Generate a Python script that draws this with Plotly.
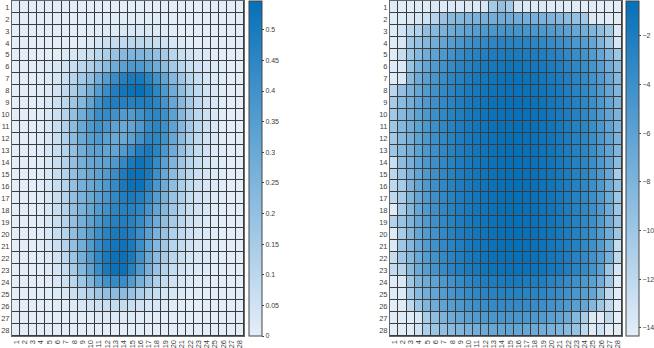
import plotly.graph_objects as go

rows = list(range(1, 29))
cols = list(range(1, 29))
tick_labels = [str(i) for i in range(1, 29)]

mean_img = [
    [0,0,0,0,0,0,0,0,0,0,0,0,0,0,0,0,0,0,0,0,0,0,0,0,0,0,0,0],
    [0,0,0,0,0,0,0,0,0,0,0,0.01,0.01,0.01,0.01,0.01,0.01,0.01,0,0,0,0,0,0,0,0,0,0],
    [0,0,0,0,0,0,0,0,0,0.01,0.01,0.02,0.02,0.03,0.03,0.03,0.03,0.02,0.02,0.01,0,0,0,0,0,0,0,0],
    [0,0,0,0,0,0,0,0,0.01,0.02,0.04,0.06,0.08,0.09,0.1,0.1,0.09,0.07,0.05,0.03,0.02,0.01,0,0,0,0,0,0],
    [0,0,0,0,0,0,0.02,0.03,0.05,0.07,0.1,0.14,0.19,0.23,0.25,0.25,0.23,0.2,0.15,0.11,0.07,0.05,0.03,0.02,0,0,0,0],
    [0,0,0,0.01,0.02,0.03,0.05,0.07,0.1,0.13,0.17,0.22,0.29,0.34,0.37,0.37,0.34,0.29,0.22,0.16,0.11,0.07,0.05,0.03,0.02,0.01,0,0],
    [0,0,0,0.01,0.02,0.04,0.07,0.11,0.16,0.21,0.28,0.35,0.42,0.47,0.5,0.5,0.46,0.4,0.32,0.24,0.17,0.11,0.07,0.04,0.02,0.01,0,0],
    [0,0,0,0.01,0.02,0.05,0.09,0.14,0.2,0.27,0.35,0.42,0.48,0.52,0.54,0.547,0.51,0.45,0.37,0.29,0.21,0.14,0.09,0.05,0.03,0.01,0,0],
    [0,0,0,0.01,0.03,0.06,0.1,0.17,0.24,0.32,0.4,0.46,0.48,0.47,0.47,0.48,0.48,0.45,0.39,0.31,0.23,0.15,0.09,0.05,0.03,0.01,0,0],
    [0,0,0,0.01,0.03,0.06,0.12,0.2,0.28,0.35,0.42,0.43,0.4,0.36,0.36,0.4,0.44,0.45,0.41,0.33,0.24,0.16,0.1,0.06,0.03,0.01,0,0],
    [0,0,0,0.01,0.03,0.07,0.13,0.22,0.3,0.37,0.4,0.38,0.33,0.3,0.32,0.37,0.43,0.45,0.41,0.33,0.24,0.16,0.1,0.06,0.03,0.01,0,0],
    [0,0,0,0.01,0.03,0.07,0.13,0.22,0.3,0.35,0.37,0.34,0.3,0.3,0.34,0.4,0.45,0.45,0.4,0.31,0.22,0.14,0.09,0.05,0.03,0.01,0,0],
    [0,0,0,0.01,0.03,0.07,0.12,0.2,0.28,0.33,0.34,0.32,0.32,0.36,0.42,0.48,0.5,0.46,0.38,0.29,0.2,0.13,0.08,0.05,0.02,0.01,0,0],
    [0,0,0,0.01,0.03,0.07,0.12,0.2,0.27,0.31,0.32,0.33,0.37,0.44,0.5,0.53,0.5,0.43,0.34,0.25,0.17,0.11,0.07,0.04,0.02,0.01,0,0],
    [0,0,0,0.01,0.03,0.07,0.12,0.2,0.26,0.3,0.33,0.36,0.42,0.49,0.54,0.54,0.5,0.41,0.31,0.22,0.15,0.1,0.06,0.04,0.02,0.01,0,0],
    [0,0,0,0.01,0.03,0.07,0.12,0.2,0.27,0.3,0.33,0.37,0.43,0.5,0.54,0.54,0.47,0.38,0.29,0.21,0.14,0.09,0.06,0.03,0.02,0.01,0,0],
    [0,0,0,0.01,0.03,0.07,0.12,0.2,0.26,0.3,0.34,0.38,0.44,0.48,0.5,0.48,0.43,0.35,0.27,0.19,0.13,0.08,0.05,0.03,0.02,0.01,0,0],
    [0,0,0,0.01,0.03,0.07,0.12,0.2,0.26,0.31,0.36,0.4,0.45,0.47,0.47,0.45,0.39,0.32,0.24,0.17,0.11,0.07,0.05,0.03,0.01,0,0,0],
    [0,0,0,0.01,0.03,0.07,0.12,0.2,0.27,0.33,0.38,0.43,0.47,0.48,0.47,0.43,0.36,0.29,0.21,0.15,0.1,0.06,0.04,0.02,0.01,0,0,0],
    [0,0,0,0.01,0.03,0.07,0.12,0.21,0.28,0.35,0.41,0.46,0.5,0.5,0.48,0.42,0.34,0.26,0.19,0.13,0.09,0.06,0.04,0.02,0.01,0,0,0],
    [0,0,0,0.01,0.03,0.06,0.12,0.2,0.28,0.36,0.43,0.48,0.52,0.53,0.5,0.42,0.32,0.24,0.17,0.11,0.08,0.05,0.03,0.02,0.01,0,0,0],
    [0,0,0,0.01,0.02,0.05,0.1,0.18,0.27,0.36,0.44,0.5,0.54,0.54,0.5,0.4,0.3,0.22,0.15,0.1,0.07,0.04,0.03,0.02,0.01,0,0,0],
    [0,0,0,0,0.02,0.04,0.08,0.15,0.24,0.33,0.42,0.5,0.54,0.54,0.47,0.37,0.27,0.19,0.12,0.08,0.05,0.03,0.02,0.01,0,0,0,0],
    [0,0,0,0,0.01,0.03,0.06,0.1,0.17,0.25,0.33,0.4,0.43,0.42,0.36,0.27,0.2,0.13,0.08,0.05,0.03,0.02,0.01,0.01,0,0,0,0],
    [0,0,0,0,0.01,0.02,0.03,0.06,0.09,0.13,0.17,0.2,0.22,0.22,0.19,0.14,0.1,0.07,0.04,0.03,0.02,0.01,0.01,0,0,0,0,0],
    [0,0,0,0,0,0.01,0.01,0.02,0.03,0.05,0.06,0.07,0.08,0.08,0.07,0.05,0.04,0.03,0.02,0.01,0.01,0,0,0,0,0,0,0],
    [0,0,0,0,0,0,0,0.01,0.01,0.01,0.02,0.02,0.02,0.02,0.02,0.01,0.01,0.01,0,0,0,0,0,0,0,0,0,0],
    [0,0,0,0,0,0,0,0,0,0,0,0,0,0,0,0,0,0,0,0,0,0,0,0,0,0,0,0],
]

log_img = [
    [-14.0,-14.1,-14.2,-14.0,-13.9,-13.8,-13.9,-13.8,-13.9,-13.7,-13.8,-13.5,-10.5,-9.3,-10.3,-13.6,-13.8,-13.9,-13.8,-14.0,-13.9,-14.1,-14.0,-14.2,-14.1,-14.3,-14.2,-14.33],
    [-14.1,-14.0,-13.8,-13.5,-13.0,-11.5,-9.5,-8.6,-8.3,-8.0,-7.8,-7.5,-7.3,-7.0,-7.0,-7.2,-7.4,-7.6,-7.8,-8.0,-8.4,-8.8,-9.3,-10.2,-13.8,-14.0,-14.1,-14.2],
    [-14.0,-13.2,-11.8,-11.2,-9.3,-8.5,-7.8,-7.0,-6.5,-6.0,-5.5,-5.1,-4.8,-4.6,-4.5,-4.5,-4.6,-4.8,-5.0,-5.3,-5.6,-6.0,-6.6,-7.3,-8.2,-9.0,-10.3,-13.8],
    [-14.0,-13.5,-10.2,-9.5,-8.4,-7.3,-6.3,-5.5,-4.8,-4.2,-3.7,-3.3,-3.0,-2.8,-2.7,-2.7,-2.8,-3.0,-3.2,-3.5,-3.9,-4.3,-4.9,-5.6,-6.5,-8.0,-10.0,-13.5],
    [-14.0,-12.5,-10.0,-8.5,-7.2,-6.0,-5.0,-4.2,-3.5,-3.0,-2.6,-2.3,-2.0,-1.9,-1.8,-1.8,-1.9,-2.0,-2.2,-2.5,-2.8,-3.2,-3.7,-4.4,-5.3,-6.4,-8.0,-10.0],
    [-13.9,-13.8,-9.6,-7.8,-6.4,-5.2,-4.2,-3.5,-2.8,-2.4,-2.0,-1.7,-1.5,-1.3,-1.2,-1.2,-1.3,-1.4,-1.6,-1.9,-2.2,-2.6,-3.1,-3.7,-4.5,-5.6,-7.0,-8.6],
    [-14.0,-13.7,-8.6,-7.0,-5.7,-4.6,-3.7,-3.0,-2.4,-2.0,-1.7,-1.4,-1.2,-1.0,-0.9,-0.9,-1.0,-1.1,-1.3,-1.6,-1.9,-2.3,-2.8,-3.4,-4.2,-5.2,-6.6,-8.4],
    [-11.8,-9.3,-7.8,-6.5,-5.3,-4.3,-3.4,-2.8,-2.2,-1.8,-1.5,-1.2,-1.0,-0.9,-0.8,-0.8,-0.8,-1.0,-1.2,-1.4,-1.7,-2.1,-2.6,-3.2,-4.0,-5.0,-6.4,-8.2],
    [-10.6,-8.7,-7.4,-6.2,-5.1,-4.1,-3.3,-2.7,-2.1,-1.7,-1.4,-1.1,-0.9,-0.8,-0.7,-0.7,-0.8,-0.9,-1.1,-1.3,-1.6,-2.0,-2.5,-3.1,-3.9,-4.9,-6.3,-8.0],
    [-10.2,-8.5,-7.2,-6.0,-5.0,-4.0,-3.2,-2.6,-2.1,-1.7,-1.4,-1.1,-0.9,-0.8,-0.7,-0.7,-0.7,-0.9,-1.0,-1.3,-1.6,-2.0,-2.5,-3.1,-3.9,-4.9,-6.2,-7.9],
    [-10.0,-8.4,-7.2,-6.0,-4.9,-4.0,-3.2,-2.6,-2.0,-1.6,-1.3,-1.1,-0.9,-0.7,-0.7,-0.57,-0.7,-0.8,-1.0,-1.2,-1.5,-1.9,-2.4,-3.0,-3.8,-4.8,-6.1,-7.8],
    [-10.3,-8.6,-7.3,-6.1,-5.0,-4.0,-3.2,-2.6,-2.0,-1.6,-1.3,-1.1,-0.9,-0.7,-0.6,-0.6,-0.7,-0.8,-1.0,-1.2,-1.5,-1.9,-2.4,-3.0,-3.8,-4.8,-6.1,-7.9],
    [-10.0,-8.5,-7.3,-6.0,-4.9,-4.0,-3.2,-2.6,-2.0,-1.6,-1.3,-1.1,-0.9,-0.7,-0.6,-0.6,-0.7,-0.8,-1.0,-1.2,-1.5,-1.9,-2.4,-3.0,-3.8,-4.9,-6.2,-8.2],
    [-12.6,-9.0,-7.6,-6.2,-5.0,-4.0,-3.2,-2.6,-2.0,-1.6,-1.3,-1.1,-0.9,-0.7,-0.6,-0.6,-0.7,-0.8,-1.0,-1.2,-1.5,-1.9,-2.4,-3.0,-3.8,-4.9,-6.3,-8.8],
    [-11.8,-9.7,-7.8,-6.3,-5.1,-4.1,-3.2,-2.6,-2.0,-1.6,-1.3,-1.1,-0.9,-0.7,-0.6,-0.6,-0.7,-0.8,-1.0,-1.2,-1.5,-1.9,-2.4,-3.0,-3.9,-5.0,-6.6,-10.7],
    [-12.0,-10.5,-8.0,-6.4,-5.1,-4.1,-3.2,-2.6,-2.0,-1.6,-1.3,-1.1,-0.9,-0.7,-0.6,-0.6,-0.7,-0.8,-1.0,-1.2,-1.5,-1.9,-2.4,-3.1,-3.9,-5.0,-6.8,-9.2],
    [-12.0,-10.6,-8.2,-6.5,-5.2,-4.1,-3.2,-2.6,-2.0,-1.6,-1.3,-1.1,-0.9,-0.7,-0.6,-0.6,-0.7,-0.8,-1.0,-1.2,-1.5,-1.9,-2.4,-3.1,-3.9,-5.1,-6.9,-10.0],
    [-14.0,-10.7,-8.3,-6.6,-5.2,-4.1,-3.2,-2.6,-2.0,-1.6,-1.3,-1.1,-0.9,-0.7,-0.6,-0.6,-0.7,-0.8,-1.0,-1.2,-1.5,-1.9,-2.4,-3.1,-4.0,-5.1,-7.0,-10.0],
    [-11.3,-9.6,-8.1,-6.5,-5.2,-4.1,-3.2,-2.6,-2.0,-1.6,-1.3,-1.1,-0.9,-0.7,-0.6,-0.6,-0.7,-0.8,-1.0,-1.2,-1.5,-1.9,-2.4,-3.1,-4.0,-5.2,-7.0,-9.6],
    [-13.9,-10.7,-8.3,-6.6,-5.3,-4.2,-3.3,-2.6,-2.0,-1.6,-1.3,-1.1,-0.9,-0.7,-0.6,-0.6,-0.7,-0.8,-1.0,-1.2,-1.5,-1.9,-2.5,-3.2,-4.0,-5.2,-7.1,-10.0],
    [-13.8,-10.0,-8.3,-6.7,-5.3,-4.2,-3.3,-2.7,-2.1,-1.7,-1.3,-1.1,-0.9,-0.7,-0.6,-0.6,-0.7,-0.8,-1.0,-1.3,-1.6,-2.0,-2.5,-3.2,-4.1,-5.3,-7.3,-12.5],
    [-12.5,-10.2,-8.4,-6.8,-5.4,-4.3,-3.4,-2.7,-2.1,-1.7,-1.4,-1.1,-0.9,-0.8,-0.7,-0.7,-0.7,-0.9,-1.1,-1.3,-1.6,-2.0,-2.6,-3.3,-4.2,-5.4,-7.5,-12.0],
    [-12.3,-11.6,-8.6,-6.9,-5.5,-4.4,-3.5,-2.8,-2.2,-1.8,-1.5,-1.2,-1.0,-0.9,-0.8,-0.8,-0.8,-1.0,-1.2,-1.4,-1.7,-2.1,-2.7,-3.4,-4.4,-5.7,-9.8,-13.6],
    [-14.1,-13.8,-10.0,-8.2,-7.0,-6.0,-5.0,-4.2,-3.5,-2.9,-2.4,-2.1,-1.9,-1.8,-1.7,-1.7,-1.8,-2.0,-2.2,-2.6,-3.0,-3.5,-4.1,-4.9,-5.8,-7.2,-10.0,-14.0],
    [-14.0,-13.9,-10.7,-8.7,-7.3,-6.3,-5.4,-4.6,-4.0,-3.5,-3.1,-2.8,-2.6,-2.5,-2.5,-2.5,-2.6,-2.8,-3.0,-3.3,-3.7,-4.2,-4.8,-5.5,-6.4,-8.4,-12.0,-14.1],
    [-14.2,-14.0,-12.0,-9.8,-8.2,-7.1,-6.2,-5.5,-4.9,-4.4,-4.0,-3.7,-3.5,-3.4,-3.4,-3.4,-3.5,-3.7,-3.9,-4.2,-4.6,-5.1,-5.7,-6.5,-8.4,-10.0,-12.0,-14.2],
    [-14.2,-14.1,-14.0,-13.6,-10.7,-9.0,-7.9,-7.0,-6.3,-5.7,-5.3,-5.0,-4.8,-4.7,-4.7,-4.7,-4.8,-5.0,-5.3,-5.7,-6.2,-6.9,-8.4,-10.7,-13.8,-14.0,-12.0,-14.3],
    [-14.3,-14.2,-14.1,-13.2,-11.0,-9.8,-9.2,-8.7,-8.2,-7.7,-7.3,-6.9,-6.6,-6.4,-6.3,-6.4,-6.6,-6.9,-7.2,-7.6,-8.1,-8.7,-9.5,-12.0,-14.0,-13.0,-14.2,-14.3],
]

colorscale = [[0, "rgb(228,238,249)"], [1, "rgb(6,112,185)"]]
FONT = "Liberation Sans, Arial, sans-serif"
TXT = "#404040"
GRID = "#3c3c3c"

W, H = 654, 348
ML, MR, MT, MB = 12, 0, 1, 12
PW = W - ML - MR


def px(x):
    return (x - ML) / PW


cb_common = dict(
    thickness=13, thicknessmode="pixels", len=1, lenmode="fraction",
    y=0.5, yanchor="middle", xanchor="left",
    outlinecolor="#444444", outlinewidth=1,
    ticks="outside", ticklen=2, tickcolor="#444444",
    tickfont=dict(size=7, color=TXT, family=FONT),
    xpad=0, ypad=0,
)

fig = go.Figure()
fig.add_trace(go.Heatmap(
    z=mean_img, x=cols, y=rows, colorscale=colorscale,
    xgap=1, ygap=1, xaxis="x", yaxis="y",
    colorbar=dict(cb_common, x=px(249), dtick=0.05, tick0=0),
))
fig.add_trace(go.Heatmap(
    z=log_img, x=cols, y=rows, colorscale=colorscale,
    xgap=1, ygap=1, xaxis="x2", yaxis="y2",
    colorbar=dict(cb_common, x=px(626), dtick=2, tick0=0),
))

ax_common = dict(
    tickmode="array", showgrid=False, zeroline=False,
    showline=True, linecolor="#666666", linewidth=1, mirror=True,
    ticks="", tickfont=dict(size=7.5, color=TXT, family=FONT),
    automargin=False,
)

fig.update_layout(
    width=W, height=H,
    margin=dict(l=ML, r=MR, t=MT, b=MB, autoexpand=False),
    paper_bgcolor="white", plot_bgcolor=GRID,
    font=dict(family=FONT, color=TXT, size=8),
    xaxis=dict(ax_common, domain=[0, px(244)], tickvals=cols, ticktext=tick_labels,
               tickangle=-90, range=[0.5, 28.5], anchor="y"),
    yaxis=dict(ax_common, domain=[0, 1], tickvals=rows, ticktext=tick_labels,
               range=[28.5, 0.5], anchor="x"),
    xaxis2=dict(ax_common, domain=[px(390), px(622)], tickvals=cols, ticktext=tick_labels,
                tickangle=-90, range=[0.5, 28.5], anchor="y2"),
    yaxis2=dict(ax_common, domain=[0, 1], tickvals=rows, ticktext=tick_labels,
                range=[28.5, 0.5], anchor="x2"),
    showlegend=False,
)

fig.write_html(
    "out.html",
    config={"displayModeBar": False},
    post_script="document.body.style.margin='0';document.body.style.overflow='hidden';",
)
